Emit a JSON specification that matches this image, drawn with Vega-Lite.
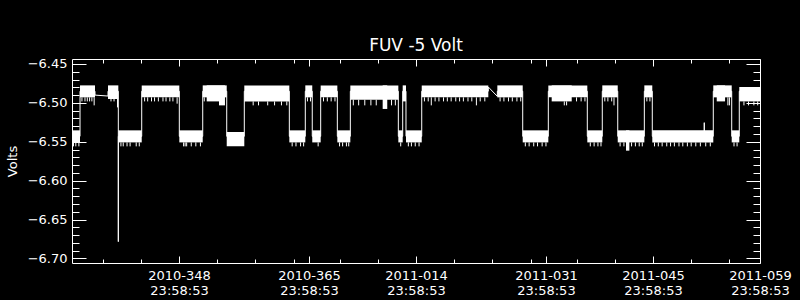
{
  "$schema": "https://vega.github.io/schema/vega-lite/v6.json",
  "width": 688,
  "height": 204,
  "autosize": {"type": "none"},
  "padding": {"left": 72, "top": 59, "right": 40, "bottom": 37},
  "background": "black",
  "config": {
    "view": {"stroke": "white", "strokeWidth": 1},
    "font": "DejaVu Sans",
    "axis": {"domain": false, "grid": false, "labelColor": "white", "tickColor": "white", "titleColor": "white", "labelFont": "DejaVu Sans", "labelFontSize": 13, "titleFont": "DejaVu Sans", "titleFontWeight": "normal", "tickWidth": 1}
  },
  "title": {"text": "FUV -5 Volt", "color": "white", "fontSize": 17, "fontWeight": "normal", "font": "DejaVu Sans", "anchor": "middle", "frame": "group", "offset": -10, "baseline": "alphabetic"},
  "datasets": {
    "bands": [
      {"t0": 334.00, "t1": 335.05, "lo": -6.5508, "hi": -6.5353},
      {"t0": 335.05, "t1": 337.01, "lo": -6.4929, "hi": -6.4775},
      {"t0": 338.71, "t1": 340.06, "lo": -6.4950, "hi": -6.4775},
      {"t0": 340.06, "t1": 343.12, "lo": -6.5508, "hi": -6.5353},
      {"t0": 343.12, "t1": 348.04, "lo": -6.4929, "hi": -6.4775},
      {"t0": 348.04, "t1": 351.10, "lo": -6.5508, "hi": -6.5353},
      {"t0": 351.10, "t1": 354.24, "lo": -6.4929, "hi": -6.4775},
      {"t0": 351.62, "t1": 353.23, "lo": -6.4981, "hi": -6.4775},
      {"t0": 353.23, "t1": 354.01, "lo": -6.5032, "hi": -6.4775},
      {"t0": 354.24, "t1": 356.54, "lo": -6.5559, "hi": -6.5374},
      {"t0": 356.54, "t1": 362.43, "lo": -6.4981, "hi": -6.4775},
      {"t0": 362.43, "t1": 364.52, "lo": -6.5508, "hi": -6.5353},
      {"t0": 364.52, "t1": 365.43, "lo": -6.4929, "hi": -6.4775},
      {"t0": 365.43, "t1": 366.53, "lo": -6.5508, "hi": -6.5353},
      {"t0": 366.53, "t1": 368.71, "lo": -6.4929, "hi": -6.4775},
      {"t0": 368.71, "t1": 370.41, "lo": -6.5508, "hi": -6.5353},
      {"t0": 370.41, "t1": 376.69, "lo": -6.4959, "hi": -6.4775},
      {"t0": 374.64, "t1": 375.24, "lo": -6.5078, "hi": -6.4775},
      {"t0": 376.69, "t1": 377.26, "lo": -6.5508, "hi": -6.5353},
      {"t0": 377.26, "t1": 377.69, "lo": -6.4981, "hi": -6.4775},
      {"t0": 377.69, "t1": 379.75, "lo": -6.5508, "hi": -6.5353},
      {"t0": 379.75, "t1": 388.46, "lo": -6.4929, "hi": -6.4775},
      {"t0": 389.64, "t1": 392.96, "lo": -6.4929, "hi": -6.4775},
      {"t0": 392.96, "t1": 396.31, "lo": -6.5508, "hi": -6.5353},
      {"t0": 396.31, "t1": 401.41, "lo": -6.4929, "hi": -6.4775},
      {"t0": 396.75, "t1": 399.37, "lo": -6.4981, "hi": -6.4775},
      {"t0": 401.41, "t1": 403.37, "lo": -6.5508, "hi": -6.5353},
      {"t0": 403.37, "t1": 405.39, "lo": -6.4929, "hi": -6.4775},
      {"t0": 405.39, "t1": 408.87, "lo": -6.5508, "hi": -6.5353},
      {"t0": 406.47, "t1": 406.91, "lo": -6.5614, "hi": -6.5353},
      {"t0": 408.87, "t1": 409.91, "lo": -6.4929, "hi": -6.4775},
      {"t0": 409.91, "t1": 417.89, "lo": -6.5508, "hi": -6.5353},
      {"t0": 417.89, "t1": 420.30, "lo": -6.4929, "hi": -6.4775},
      {"t0": 418.34, "t1": 419.43, "lo": -6.4981, "hi": -6.4775},
      {"t0": 420.30, "t1": 421.29, "lo": -6.5508, "hi": -6.5353},
      {"t0": 421.29, "t1": 424.00, "lo": -6.4981, "hi": -6.4796}
    ],
    "fringe": [
      {"t": 334.2, "lo": -6.5559, "hi": -6.5508},
      {"t": 334.5, "lo": -6.5559, "hi": -6.5508},
      {"t": 334.9, "lo": -6.5559, "hi": -6.5508},
      {"t": 335.3, "lo": -6.4981, "hi": -6.4929},
      {"t": 335.7, "lo": -6.4981, "hi": -6.4929},
      {"t": 336.0, "lo": -6.4981, "hi": -6.4929},
      {"t": 336.3, "lo": -6.4981, "hi": -6.4929},
      {"t": 336.6, "lo": -6.4981, "hi": -6.4929},
      {"t": 336.9, "lo": -6.5032, "hi": -6.4929},
      {"t": 339.1, "lo": -6.4981, "hi": -6.4929},
      {"t": 339.5, "lo": -6.4981, "hi": -6.4929},
      {"t": 339.95, "lo": -6.5058, "hi": -6.4929},
      {"t": 340.4, "lo": -6.5559, "hi": -6.5508},
      {"t": 340.7, "lo": -6.5559, "hi": -6.5508},
      {"t": 341.2, "lo": -6.5559, "hi": -6.5508},
      {"t": 341.6, "lo": -6.5559, "hi": -6.5508},
      {"t": 342.4, "lo": -6.5559, "hi": -6.5508},
      {"t": 342.8, "lo": -6.5559, "hi": -6.5508},
      {"t": 343.5, "lo": -6.4981, "hi": -6.4929},
      {"t": 343.9, "lo": -6.4981, "hi": -6.4929},
      {"t": 344.4, "lo": -6.4981, "hi": -6.4929},
      {"t": 344.8, "lo": -6.4981, "hi": -6.4929},
      {"t": 345.3, "lo": -6.4981, "hi": -6.4929},
      {"t": 345.9, "lo": -6.4981, "hi": -6.4929},
      {"t": 346.3, "lo": -6.4981, "hi": -6.4929},
      {"t": 346.8, "lo": -6.4981, "hi": -6.4929},
      {"t": 347.2, "lo": -6.4981, "hi": -6.4929},
      {"t": 347.75, "lo": -6.5010, "hi": -6.4929},
      {"t": 348.6, "lo": -6.5559, "hi": -6.5508},
      {"t": 348.8, "lo": -6.5559, "hi": -6.5508},
      {"t": 349.0, "lo": -6.5559, "hi": -6.5508},
      {"t": 349.6, "lo": -6.5559, "hi": -6.5508},
      {"t": 350.2, "lo": -6.5559, "hi": -6.5508},
      {"t": 350.8, "lo": -6.5559, "hi": -6.5508},
      {"t": 351.3, "lo": -6.4981, "hi": -6.4929},
      {"t": 357.7, "lo": -6.5032, "hi": -6.4981},
      {"t": 358.4, "lo": -6.5032, "hi": -6.4981},
      {"t": 359.6, "lo": -6.5032, "hi": -6.4981},
      {"t": 360.5, "lo": -6.5032, "hi": -6.4981},
      {"t": 361.4, "lo": -6.5032, "hi": -6.4981},
      {"t": 362.1, "lo": -6.5032, "hi": -6.4981},
      {"t": 362.8, "lo": -6.5559, "hi": -6.5508},
      {"t": 363.3, "lo": -6.5559, "hi": -6.5508},
      {"t": 363.9, "lo": -6.5559, "hi": -6.5508},
      {"t": 364.3, "lo": -6.5559, "hi": -6.5508},
      {"t": 364.8, "lo": -6.4981, "hi": -6.4929},
      {"t": 365.2, "lo": -6.4981, "hi": -6.4929},
      {"t": 366.2, "lo": -6.5559, "hi": -6.5508},
      {"t": 366.9, "lo": -6.4981, "hi": -6.4929},
      {"t": 367.4, "lo": -6.4981, "hi": -6.4929},
      {"t": 367.9, "lo": -6.4981, "hi": -6.4929},
      {"t": 368.4, "lo": -6.4981, "hi": -6.4929},
      {"t": 369.0, "lo": -6.5559, "hi": -6.5508},
      {"t": 369.4, "lo": -6.5559, "hi": -6.5508},
      {"t": 369.9, "lo": -6.5559, "hi": -6.5508},
      {"t": 370.2, "lo": -6.5559, "hi": -6.5508},
      {"t": 370.8, "lo": -6.5032, "hi": -6.4959},
      {"t": 371.5, "lo": -6.5032, "hi": -6.4959},
      {"t": 372.3, "lo": -6.5032, "hi": -6.4959},
      {"t": 373.1, "lo": -6.5032, "hi": -6.4959},
      {"t": 373.8, "lo": -6.5032, "hi": -6.4959},
      {"t": 375.8, "lo": -6.5032, "hi": -6.4959},
      {"t": 376.3, "lo": -6.5032, "hi": -6.4959},
      {"t": 377.0, "lo": -6.5559, "hi": -6.5508},
      {"t": 378.0, "lo": -6.5559, "hi": -6.5508},
      {"t": 378.4, "lo": -6.5559, "hi": -6.5508},
      {"t": 378.9, "lo": -6.5559, "hi": -6.5508},
      {"t": 379.4, "lo": -6.5559, "hi": -6.5508},
      {"t": 380.1, "lo": -6.4981, "hi": -6.4929},
      {"t": 380.6, "lo": -6.4981, "hi": -6.4929},
      {"t": 381.0, "lo": -6.5032, "hi": -6.4929},
      {"t": 381.5, "lo": -6.4981, "hi": -6.4929},
      {"t": 382.0, "lo": -6.4981, "hi": -6.4929},
      {"t": 382.6, "lo": -6.4981, "hi": -6.4929},
      {"t": 383.1, "lo": -6.4981, "hi": -6.4929},
      {"t": 383.6, "lo": -6.4981, "hi": -6.4929},
      {"t": 384.2, "lo": -6.4981, "hi": -6.4929},
      {"t": 384.7, "lo": -6.4981, "hi": -6.4929},
      {"t": 385.2, "lo": -6.4981, "hi": -6.4929},
      {"t": 385.8, "lo": -6.4981, "hi": -6.4929},
      {"t": 386.3, "lo": -6.4981, "hi": -6.4929},
      {"t": 386.9, "lo": -6.5032, "hi": -6.4929},
      {"t": 387.4, "lo": -6.4981, "hi": -6.4929},
      {"t": 388.0, "lo": -6.4981, "hi": -6.4929},
      {"t": 390.0, "lo": -6.4981, "hi": -6.4929},
      {"t": 390.5, "lo": -6.4981, "hi": -6.4929},
      {"t": 391.1, "lo": -6.4981, "hi": -6.4929},
      {"t": 391.6, "lo": -6.4981, "hi": -6.4929},
      {"t": 392.2, "lo": -6.4981, "hi": -6.4929},
      {"t": 392.7, "lo": -6.4981, "hi": -6.4929},
      {"t": 393.3, "lo": -6.5559, "hi": -6.5508},
      {"t": 393.8, "lo": -6.5559, "hi": -6.5508},
      {"t": 394.4, "lo": -6.5559, "hi": -6.5508},
      {"t": 394.9, "lo": -6.5559, "hi": -6.5508},
      {"t": 395.5, "lo": -6.5559, "hi": -6.5508},
      {"t": 396.0, "lo": -6.5559, "hi": -6.5508},
      {"t": 398.4, "lo": -6.5032, "hi": -6.4981},
      {"t": 398.7, "lo": -6.5032, "hi": -6.4981},
      {"t": 400.0, "lo": -6.4981, "hi": -6.4929},
      {"t": 400.6, "lo": -6.4981, "hi": -6.4929},
      {"t": 401.1, "lo": -6.4981, "hi": -6.4929},
      {"t": 401.8, "lo": -6.5559, "hi": -6.5508},
      {"t": 402.3, "lo": -6.5559, "hi": -6.5508},
      {"t": 402.8, "lo": -6.5559, "hi": -6.5508},
      {"t": 403.2, "lo": -6.5559, "hi": -6.5508},
      {"t": 403.7, "lo": -6.4981, "hi": -6.4929},
      {"t": 404.1, "lo": -6.4981, "hi": -6.4929},
      {"t": 404.6, "lo": -6.4981, "hi": -6.4929},
      {"t": 404.9, "lo": -6.5032, "hi": -6.4929},
      {"t": 405.7, "lo": -6.5559, "hi": -6.5508},
      {"t": 406.2, "lo": -6.5559, "hi": -6.5508},
      {"t": 407.2, "lo": -6.5559, "hi": -6.5508},
      {"t": 407.7, "lo": -6.5559, "hi": -6.5508},
      {"t": 408.2, "lo": -6.5559, "hi": -6.5508},
      {"t": 408.6, "lo": -6.5559, "hi": -6.5508},
      {"t": 409.2, "lo": -6.4981, "hi": -6.4929},
      {"t": 409.6, "lo": -6.4981, "hi": -6.4929},
      {"t": 410.2, "lo": -6.5559, "hi": -6.5508},
      {"t": 410.7, "lo": -6.5559, "hi": -6.5508},
      {"t": 411.2, "lo": -6.5559, "hi": -6.5508},
      {"t": 411.8, "lo": -6.5559, "hi": -6.5508},
      {"t": 412.3, "lo": -6.5559, "hi": -6.5508},
      {"t": 412.8, "lo": -6.5559, "hi": -6.5508},
      {"t": 413.4, "lo": -6.5559, "hi": -6.5508},
      {"t": 413.9, "lo": -6.5559, "hi": -6.5508},
      {"t": 414.5, "lo": -6.5559, "hi": -6.5508},
      {"t": 415.0, "lo": -6.5559, "hi": -6.5508},
      {"t": 415.6, "lo": -6.5559, "hi": -6.5508},
      {"t": 416.2, "lo": -6.5559, "hi": -6.5508},
      {"t": 416.9, "lo": -6.5559, "hi": -6.5508},
      {"t": 417.5, "lo": -6.5559, "hi": -6.5508},
      {"t": 419.8, "lo": -6.5032, "hi": -6.4929},
      {"t": 420.0, "lo": -6.5032, "hi": -6.4929},
      {"t": 420.6, "lo": -6.5559, "hi": -6.5508},
      {"t": 421.0, "lo": -6.5559, "hi": -6.5508},
      {"t": 421.9, "lo": -6.5032, "hi": -6.4981},
      {"t": 422.5, "lo": -6.5032, "hi": -6.4981},
      {"t": 423.2, "lo": -6.5032, "hi": -6.4981},
      {"t": 423.7, "lo": -6.5032, "hi": -6.4981}
    ],
    "trace": [
      {"i": 1, "t": 334.00, "v": -6.543},
      {"i": 2, "t": 335.05, "v": -6.543},
      {"i": 3, "t": 335.05, "v": -6.485},
      {"i": 4, "t": 337.01, "v": -6.485},
      {"i": 5, "t": 337.01, "v": -6.4900},
      {"i": 6, "t": 338.71, "v": -6.4912},
      {"i": 7, "t": 338.71, "v": -6.485},
      {"i": 8, "t": 340.06, "v": -6.485},
      {"i": 9, "t": 340.06, "v": -6.6784},
      {"i": 10, "t": 340.06, "v": -6.543},
      {"i": 11, "t": 343.12, "v": -6.543},
      {"i": 12, "t": 343.12, "v": -6.485},
      {"i": 13, "t": 348.04, "v": -6.485},
      {"i": 14, "t": 348.04, "v": -6.543},
      {"i": 15, "t": 351.10, "v": -6.543},
      {"i": 16, "t": 351.10, "v": -6.485},
      {"i": 17, "t": 354.24, "v": -6.485},
      {"i": 18, "t": 354.24, "v": -6.543},
      {"i": 19, "t": 356.54, "v": -6.543},
      {"i": 20, "t": 356.54, "v": -6.485},
      {"i": 21, "t": 362.43, "v": -6.485},
      {"i": 22, "t": 362.43, "v": -6.543},
      {"i": 23, "t": 364.52, "v": -6.543},
      {"i": 24, "t": 364.52, "v": -6.485},
      {"i": 25, "t": 365.43, "v": -6.485},
      {"i": 26, "t": 365.43, "v": -6.543},
      {"i": 27, "t": 366.53, "v": -6.543},
      {"i": 28, "t": 366.53, "v": -6.485},
      {"i": 29, "t": 368.71, "v": -6.485},
      {"i": 30, "t": 368.71, "v": -6.543},
      {"i": 31, "t": 370.41, "v": -6.543},
      {"i": 32, "t": 370.41, "v": -6.485},
      {"i": 33, "t": 376.69, "v": -6.485},
      {"i": 34, "t": 376.69, "v": -6.543},
      {"i": 35, "t": 377.26, "v": -6.543},
      {"i": 36, "t": 377.26, "v": -6.485},
      {"i": 37, "t": 377.69, "v": -6.485},
      {"i": 38, "t": 377.69, "v": -6.543},
      {"i": 39, "t": 379.75, "v": -6.543},
      {"i": 40, "t": 379.75, "v": -6.485},
      {"i": 41, "t": 388.46, "v": -6.485},
      {"i": 42, "t": 388.46, "v": -6.4796},
      {"i": 43, "t": 389.64, "v": -6.4916},
      {"i": 44, "t": 389.64, "v": -6.485},
      {"i": 45, "t": 392.96, "v": -6.485},
      {"i": 46, "t": 392.96, "v": -6.543},
      {"i": 47, "t": 396.31, "v": -6.543},
      {"i": 48, "t": 396.31, "v": -6.485},
      {"i": 49, "t": 401.41, "v": -6.485},
      {"i": 50, "t": 401.41, "v": -6.543},
      {"i": 51, "t": 403.37, "v": -6.543},
      {"i": 52, "t": 403.37, "v": -6.485},
      {"i": 53, "t": 405.39, "v": -6.485},
      {"i": 54, "t": 405.39, "v": -6.543},
      {"i": 55, "t": 408.87, "v": -6.543},
      {"i": 56, "t": 408.87, "v": -6.485},
      {"i": 57, "t": 409.91, "v": -6.485},
      {"i": 58, "t": 409.91, "v": -6.543},
      {"i": 59, "t": 416.71, "v": -6.543},
      {"i": 60, "t": 416.71, "v": -6.5254},
      {"i": 61, "t": 416.71, "v": -6.543},
      {"i": 62, "t": 417.89, "v": -6.543},
      {"i": 63, "t": 417.89, "v": -6.485},
      {"i": 64, "t": 420.30, "v": -6.485},
      {"i": 65, "t": 420.30, "v": -6.543},
      {"i": 66, "t": 421.29, "v": -6.543},
      {"i": 67, "t": 421.29, "v": -6.485},
      {"i": 68, "t": 424.00, "v": -6.485}
    ]
  },
  "layer": [
    {
      "data": {"name": "bands"},
      "mark": {"type": "rect", "color": "white"},
      "encoding": {
        "x": {"field": "t0", "type": "quantitative", "scale": {"domain": [334, 424], "nice": false, "zero": false},
          "axis": {"orient": "bottom", "values": [348, 365, 379, 396, 410, 424], "tickSize": -7, "labelPadding": 13, "labelBaseline": "top", "labelLineHeight": 15, "labelFlush": false, "labelOverlap": false, "labelBound": false, "title": null,
            "labelExpr": "datum.value == 348 ? ['2010-348','23:58:53'] : datum.value == 365 ? ['2010-365','23:58:53'] : datum.value == 379 ? ['2011-014','23:58:53'] : datum.value == 396 ? ['2011-031','23:58:53'] : datum.value == 410 ? ['2011-045','23:58:53'] : ['2011-059','23:58:53']"}},
        "x2": {"field": "t1"},
        "y": {"field": "lo", "type": "quantitative", "scale": {"domain": [-6.7058, -6.4436], "nice": false, "zero": false},
          "axis": {"orient": "left", "values": [-6.7, -6.65, -6.6, -6.55, -6.5, -6.45], "tickSize": -14, "labelPadding": 19, "format": ".2f", "labelFlush": false, "labelOverlap": false, "labelBound": false,
            "title": "Volts", "titleFontSize": 13, "titleX": -60, "titleY": 102, "titleAngle": -90, "titleAlign": "center", "titleBaseline": "middle"}},
        "y2": {"field": "hi"}
      }
    },
    {
      "data": {"name": "fringe"},
      "mark": {"type": "rule", "color": "white", "strokeWidth": 1},
      "encoding": {
        "x": {"field": "t", "type": "quantitative", "scale": {"domain": [334, 424], "nice": false, "zero": false},
          "axis": {"orient": "bottom", "values": [338, 343, 353, 358, 363, 369, 374, 384, 389, 394, 400, 405, 415, 420], "tickSize": -4, "labels": false, "title": null}},
        "y": {"field": "lo", "type": "quantitative", "scale": {"domain": [-6.7058, -6.4436], "nice": false, "zero": false},
          "axis": {"orient": "left", "values": [-6.70, -6.69, -6.68, -6.67, -6.66, -6.65, -6.64, -6.63, -6.62, -6.61, -6.60, -6.59, -6.58, -6.57, -6.56, -6.55, -6.54, -6.53, -6.52, -6.51, -6.50, -6.49, -6.48, -6.47, -6.46, -6.45], "tickSize": -7, "labels": false, "title": null}},
        "y2": {"field": "hi"}
      }
    },
    {
      "data": {"name": "trace"},
      "mark": {"type": "line", "color": "white", "strokeWidth": 1},
      "encoding": {
        "x": {"field": "t", "type": "quantitative", "scale": {"domain": [334, 424], "nice": false, "zero": false},
          "axis": {"orient": "top", "values": [338, 343, 348, 353, 358, 363, 365, 369, 374, 379, 384, 389, 394, 396, 400, 405, 410, 415, 420, 424], "labels": false, "title": null,
            "tickSize": {"condition": {"test": "indexof([348, 365, 379, 396, 410, 424], datum.value) >= 0", "value": -7}, "value": -4}}},
        "y": {"field": "v", "type": "quantitative", "scale": {"domain": [-6.7058, -6.4436], "nice": false, "zero": false},
          "axis": {"orient": "right", "values": [-6.70, -6.69, -6.68, -6.67, -6.66, -6.65, -6.64, -6.63, -6.62, -6.61, -6.60, -6.59, -6.58, -6.57, -6.56, -6.55, -6.54, -6.53, -6.52, -6.51, -6.50, -6.49, -6.48, -6.47, -6.46, -6.45], "labels": false, "title": null,
            "tickSize": {"condition": {"test": "abs(round(datum.value * 100) % 5) == 0", "value": -14}, "value": -7}}},
        "order": {"field": "i", "type": "quantitative"}
      }
    }
  ],
  "resolve": {"axis": {"x": "independent", "y": "independent"}}
}
